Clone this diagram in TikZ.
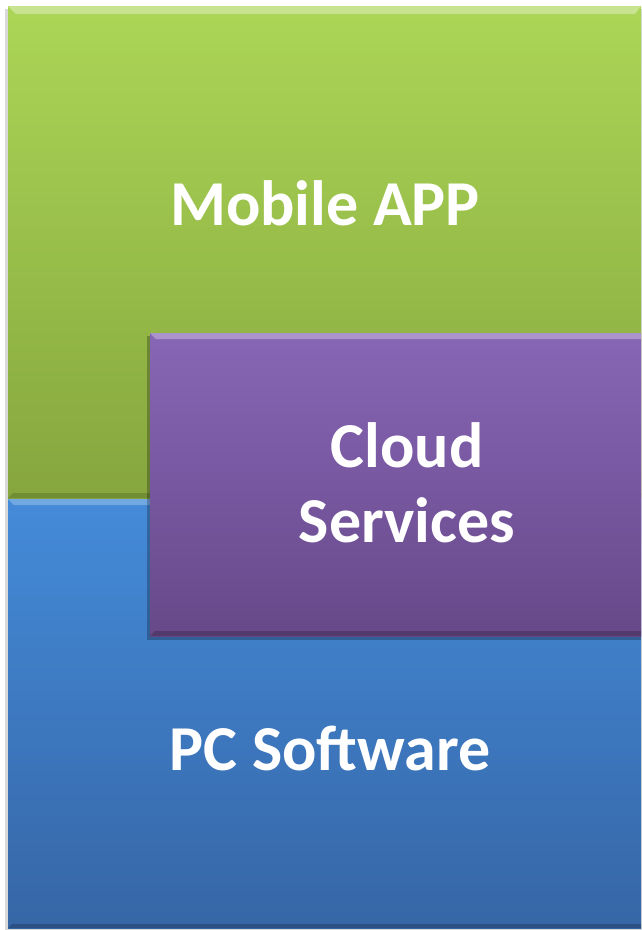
\documentclass[tikz,border=0pt]{standalone}
\usepackage{fontspec}
\setmainfont{Carlito}
\usetikzlibrary{shadows}
\definecolor{gtop}{HTML}{ABD656}
\definecolor{gbot}{HTML}{86A63E}
\definecolor{ptop}{HTML}{8766B6}
\definecolor{pbot}{HTML}{674989}
\definecolor{btop}{HTML}{448BD9}
\definecolor{bbot}{HTML}{3666A6}
\tikzset{
  panel/.style={inner sep=0pt, outer sep=0pt, draw=none},
  lbl/.style={text=white, font=\bfseries\fontsize{64}{75}\selectfont, align=center, inner sep=0pt},
}
\begin{document}
\begin{tikzpicture}[x=1pt,y=-1pt]
\useasboundingbox (0,0) rectangle (642,930);
\fill[white] (0,0) rectangle (642,930);
% shadows
\fill[black!15] (5,9) rectangle (642,930);
% blue panel
\shade[top color=btop, bottom color=bbot] (8,499) rectangle (641,928);
\fill[white,opacity=0.25] (8,499) -- (641,499) -- (641,505) -- (14,505) -- cycle;
\fill[black,opacity=0.2] (8,928) -- (641,928) -- (641,924) -- (12,924) -- cycle;
\node[panel, minimum width=633, minimum height=429, anchor=north west] (pc) at (8,499) {};
% green panel
\shade[top color=gtop, bottom color=gbot] (8,6) rectangle (641,498);
\fill[white,opacity=0.35] (8,6) -- (641,6) -- (635,14) -- (16,14) -- cycle;
\fill[black,opacity=0.15] (8,498) -- (641,498) -- (641,493) -- (13,493) -- cycle;
\node[panel, minimum width=633, minimum height=492, anchor=north west] (mob) at (8,6) {};
% purple panel shadow
\fill[black,opacity=0.25] (147,336) rectangle (641,640);
\shade[top color=ptop, bottom color=pbot] (150,333) rectangle (641,636);
\fill[white,opacity=0.3] (150,333) -- (641,333) -- (641,339) -- (156,339) -- cycle;
\fill[black,opacity=0.2] (150,636) -- (641,636) -- (641,631) -- (155,631) -- cycle;
\node[panel, minimum width=491, minimum height=303, anchor=north west] (cloud) at (150,333) {};
% labels
\node[lbl] (tmob) at (325,203) {Mobile APP};
\node[lbl] (tcloud) at (407,483) {Cloud\\Services};
\node[lbl] (tpc) at (330,748) {PC Software};
\end{tikzpicture}
\end{document}
